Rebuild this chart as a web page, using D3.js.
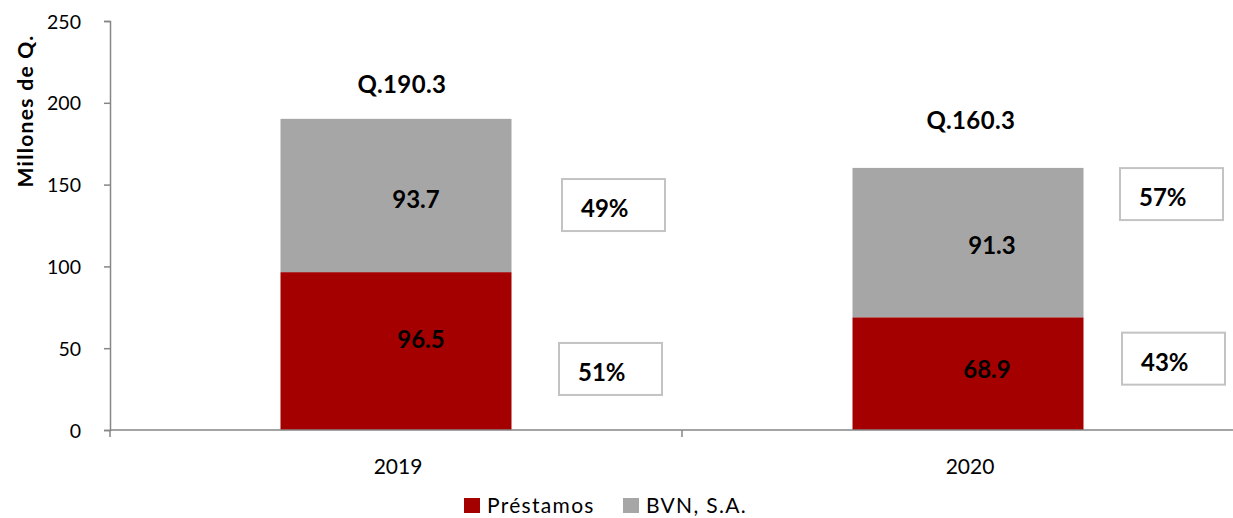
<!DOCTYPE html>
<html>
<head>
<meta charset="utf-8">
<script src="https://cdn.jsdelivr.net/npm/d3@7"></script>
<style>
  html, body { margin: 0; padding: 0; background: #fff; }
  svg { display: block; }
  text { font-family: Lato, "Open Sans", "Liberation Sans", sans-serif; }
</style>
</head>
<body>
<svg id="chart" width="1233" height="518"></svg>
<script>
// Funding composition by year (millions of quetzales)
const years = ["2019", "2020"];
const prestamos = [96.5, 68.9];
const bvn = [93.7, 91.3];
const totals = ["Q.190.3", "Q.160.3"];
const shareBvn = ["49%", "57%"];
const sharePrestamos = ["51%", "43%"];
const yTicks = [0, 50, 100, 150, 200, 250];
const seriesNames = ["Préstamos", "BVN, S.A."];
const seriesColors = ["#a50000", "#a6a6a6"];

const svg = d3.select("#chart");
const axisColor = "#868686";

const x = d3.scaleBand().domain(years).range([110, 1254]).paddingInner(0).paddingOuter(0);
const y = d3.scaleLinear().domain([0, 250]).range([430, 21]);
const barW = 231;
const cx = d => x(d) + x.bandwidth() / 2;

// Y axis
const yAxis = svg.append("g").attr("transform", "translate(110,0)")
  .call(d3.axisLeft(y).tickValues(yTicks).tickSize(6).tickPadding(23));
yAxis.select(".domain").attr("stroke", axisColor).attr("stroke-width", 1.5);
yAxis.selectAll(".tick line").attr("stroke", axisColor).attr("stroke-width", 1.5);
yAxis.selectAll(".tick text").attr("font-size", 19.5).attr("fill", "#000")
  .attr("x", -29).attr("dy", "0.36em").attr("text-anchor", "end")
  .style("font-family", "Lato, 'Open Sans', sans-serif");

// Y axis title
svg.append("text")
  .attr("transform", "translate(33,111) rotate(-90)")
  .attr("text-anchor", "middle")
  .attr("font-size", 21).attr("font-weight", "bold")
  .attr("letter-spacing", 1.3)
  .text("Millones de Q.");

// Stacked bars
const rows = years.map((yr, i) => ({ year: yr, p: prestamos[i], b: bvn[i] }));
const stack = d3.stack().keys(["p", "b"])(rows);
svg.append("g").selectAll("g").data(stack).join("g")
  .attr("fill", (d, i) => seriesColors[i])
  .selectAll("rect").data(d => d).join("rect")
  .attr("x", d => cx(d.data.year) - barW / 2)
  .attr("width", barW)
  .attr("y", d => y(d[1]))
  .attr("height", d => y(d[0]) - y(d[1]));

// X axis (category separators)
const xg = svg.append("g").attr("transform", "translate(0,430)");
xg.append("line").attr("x1", 110).attr("x2", 1254).attr("y1", 0).attr("y2", 0)
  .attr("stroke", axisColor).attr("stroke-width", 1.5);
[110, x(years[1]), 1254].forEach(px => {
  xg.append("line").attr("x1", px).attr("x2", px).attr("y1", 0).attr("y2", 7)
    .attr("stroke", axisColor).attr("stroke-width", 1.5);
});
xg.selectAll("text.cat").data(years).join("text")
  .attr("class", "cat")
  .attr("x", d => cx(d) + 2).attr("y", 44)
  .attr("text-anchor", "middle").attr("font-size", 21)
  .text(d => d);

// Segment value labels (placement nudges per bar)
const redNudge = [[25, -3], [19, 4]];
const grayNudge = [[20, 13], [24, 11]];
svg.append("g").selectAll("text").data(rows).join("text")
  .attr("x", (d, i) => cx(d.year) + redNudge[i][0])
  .attr("y", (d, i) => (y(0) + y(d.p)) / 2 + redNudge[i][1])
  .attr("text-anchor", "middle").attr("font-size", 24).attr("font-weight", "bold")
  .text(d => d3.format(".1f")(d.p));
svg.append("g").selectAll("text").data(rows).join("text")
  .attr("x", (d, i) => cx(d.year) + grayNudge[i][0])
  .attr("y", (d, i) => (y(d.p) + y(d.p + d.b)) / 2 + grayNudge[i][1])
  .attr("text-anchor", "middle").attr("font-size", 24).attr("font-weight", "bold")
  .text(d => d3.format(".1f")(d.b));

// Totals above bars
const totalNudge = [[6, -26], [3, -39]];
svg.append("g").selectAll("text").data(rows).join("text")
  .attr("x", (d, i) => cx(d.year) + totalNudge[i][0])
  .attr("y", (d, i) => y(d.p + d.b) + totalNudge[i][1])
  .attr("text-anchor", "middle").attr("font-size", 24).attr("font-weight", "bold")
  .attr("letter-spacing", 0.4)
  .text((d, i) => totals[i]);

// Share boxes to the right of each bar (box top given in axis units)
const boxes = [
  { year: years[0], label: shareBvn[0], top: 153.4, dx: 166 },
  { year: years[0], label: sharePrestamos[0], top: 53.2, dx: 163 },
  { year: years[1], label: shareBvn[1], top: 160.1, dx: 152 },
  { year: years[1], label: sharePrestamos[1], top: 59.5, dx: 154 }
];
const bg = svg.append("g").selectAll("g").data(boxes).join("g")
  .attr("transform", d => `translate(${cx(d.year) + d.dx},${y(d.top)})`);
bg.append("rect").attr("width", 103).attr("height", 52)
  .attr("fill", "#fff").attr("stroke", "#c3c3c3").attr("stroke-width", 2);
bg.append("text").attr("x", 19).attr("y", 38)
  .attr("font-size", 24).attr("font-weight", "bold")
  .text(d => d.label);

// Legend
const lg = svg.append("g").attr("transform", "translate(464,498)");
const items = lg.selectAll("g").data(seriesNames).join("g")
  .attr("transform", (d, i) => `translate(${i * 159},0)`);
items.append("rect").attr("width", 16).attr("height", 15).attr("fill", (d, i) => seriesColors[i]);
items.append("text").attr("x", 23).attr("y", 15).attr("font-size", 21)
  .attr("letter-spacing", 1.3).text(d => d);
</script>
</body>
</html>
